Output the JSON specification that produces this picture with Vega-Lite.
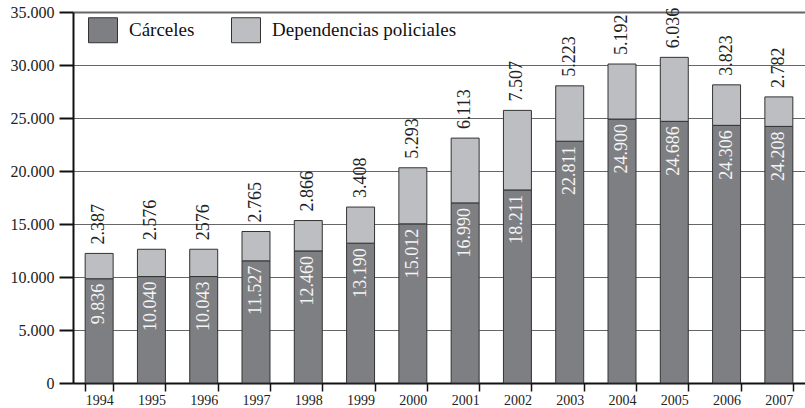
{
  "$schema": "https://vega.github.io/schema/vega-lite/v6.json",
  "width": 732,
  "height": 371,
  "autosize": {"type": "none"},
  "padding": {"left": 73, "top": 12, "right": 0, "bottom": 25},
  "background": "white",
  "config": {
    "locale": {"number": {"decimal": ",", "thousands": ".", "grouping": [3], "currency": ["", " €"]}},
    "font": "Liberation Serif",
    "view": {"stroke": null}
  },
  "data": {
    "values": [
      {"anio": "1994", "tipo": "Cárceles", "valor": 9836, "texto": "9.836"},
      {"anio": "1994", "tipo": "Dependencias policiales", "valor": 2387, "texto": "2.387"},
      {"anio": "1995", "tipo": "Cárceles", "valor": 10040, "texto": "10.040"},
      {"anio": "1995", "tipo": "Dependencias policiales", "valor": 2576, "texto": "2.576"},
      {"anio": "1996", "tipo": "Cárceles", "valor": 10043, "texto": "10.043"},
      {"anio": "1996", "tipo": "Dependencias policiales", "valor": 2576, "texto": "2576"},
      {"anio": "1997", "tipo": "Cárceles", "valor": 11527, "texto": "11.527"},
      {"anio": "1997", "tipo": "Dependencias policiales", "valor": 2765, "texto": "2.765"},
      {"anio": "1998", "tipo": "Cárceles", "valor": 12460, "texto": "12.460"},
      {"anio": "1998", "tipo": "Dependencias policiales", "valor": 2866, "texto": "2.866"},
      {"anio": "1999", "tipo": "Cárceles", "valor": 13190, "texto": "13.190"},
      {"anio": "1999", "tipo": "Dependencias policiales", "valor": 3408, "texto": "3.408"},
      {"anio": "2000", "tipo": "Cárceles", "valor": 15012, "texto": "15.012"},
      {"anio": "2000", "tipo": "Dependencias policiales", "valor": 5293, "texto": "5.293"},
      {"anio": "2001", "tipo": "Cárceles", "valor": 16990, "texto": "16.990"},
      {"anio": "2001", "tipo": "Dependencias policiales", "valor": 6113, "texto": "6.113"},
      {"anio": "2002", "tipo": "Cárceles", "valor": 18211, "texto": "18.211"},
      {"anio": "2002", "tipo": "Dependencias policiales", "valor": 7507, "texto": "7.507"},
      {"anio": "2003", "tipo": "Cárceles", "valor": 22811, "texto": "22.811"},
      {"anio": "2003", "tipo": "Dependencias policiales", "valor": 5223, "texto": "5.223"},
      {"anio": "2004", "tipo": "Cárceles", "valor": 24900, "texto": "24.900"},
      {"anio": "2004", "tipo": "Dependencias policiales", "valor": 5192, "texto": "5.192"},
      {"anio": "2005", "tipo": "Cárceles", "valor": 24686, "texto": "24.686"},
      {"anio": "2005", "tipo": "Dependencias policiales", "valor": 6036, "texto": "6.036"},
      {"anio": "2006", "tipo": "Cárceles", "valor": 24306, "texto": "24.306"},
      {"anio": "2006", "tipo": "Dependencias policiales", "valor": 3823, "texto": "3.823"},
      {"anio": "2007", "tipo": "Cárceles", "valor": 24208, "texto": "24.208"},
      {"anio": "2007", "tipo": "Dependencias policiales", "valor": 2782, "texto": "2.782"}
    ]
  },
  "transform": [
    {"stack": "valor", "groupby": ["anio"], "sort": [{"field": "tipo", "order": "ascending"}], "as": ["v0", "v1"]}
  ],
  "layer": [
    {
      "mark": {"type": "bar", "stroke": "#333333", "strokeWidth": 1},
      "encoding": {
        "x": {
          "field": "anio", "type": "ordinal",
          "scale": {"paddingInner": 0.465, "paddingOuter": 0.2325},
          "axis": {
            "title": null, "labelAngle": 0, "tickBand": "extent", "tickSize": 8, "tickWidth": 1.5,
            "tickColor": "#111111", "domainColor": "#111111", "domainWidth": 2,
            "labelFontSize": 14, "labelColor": "#222222", "labelPadding": 2, "labelFont": "Liberation Serif"
          }
        },
        "y": {
          "field": "v0", "type": "quantitative",
          "scale": {"domain": [0, 35000], "nice": false},
          "axis": {
            "title": null, "values": [0, 5000, 10000, 15000, 20000, 25000, 30000, 35000], "format": ",d",
            "tickSize": 14, "tickWidth": 2, "tickColor": "#111111", "domainWidth": 2, "domainColor": "#111111",
            "grid": true, "gridColor": "#666666",
            "gridWidth": {"condition": {"test": "datum.value === 35000", "value": 2}, "value": 1},
            "labelFontSize": 16, "labelPadding": 5, "labelColor": "#222222", "labelFont": "Liberation Serif"
          }
        },
        "y2": {"field": "v1"},
        "color": {
          "field": "tipo", "type": "nominal",
          "scale": {"domain": ["Cárceles", "Dependencias policiales"], "range": ["#7e7f83", "#bdbec1"]},
          "legend": {
            "title": null, "orient": "none", "legendX": 15, "legendY": 3, "direction": "horizontal",
            "symbolType": "M-1,-0.862H1V0.862H-1Z", "symbolSize": 841,
            "symbolStrokeColor": "#333333", "symbolStrokeWidth": 1, "symbolOpacity": 1,
            "labelFontSize": 19, "labelFont": "Liberation Serif", "labelColor": "#111111",
            "labelOffset": 11, "columnPadding": 34, "padding": 0, "labelLimit": 400
          }
        }
      }
    },
    {
      "transform": [{"filter": "datum.tipo === 'Cárceles'"}],
      "mark": {"type": "text", "angle": 270, "align": "right", "baseline": "middle", "dx": -5, "fontSize": 18, "color": "#f4f4f4", "font": "Liberation Serif"},
      "encoding": {
        "x": {"field": "anio", "type": "ordinal"},
        "y": {"field": "v1", "type": "quantitative"},
        "text": {"field": "texto"}
      }
    },
    {
      "transform": [{"filter": "datum.tipo === 'Dependencias policiales'"}],
      "mark": {"type": "text", "angle": 270, "align": "left", "baseline": "middle", "dx": 9, "fontSize": 18, "color": "#222222", "font": "Liberation Serif"},
      "encoding": {
        "x": {"field": "anio", "type": "ordinal"},
        "y": {"field": "v1", "type": "quantitative"},
        "text": {"field": "texto"}
      }
    }
  ]
}
